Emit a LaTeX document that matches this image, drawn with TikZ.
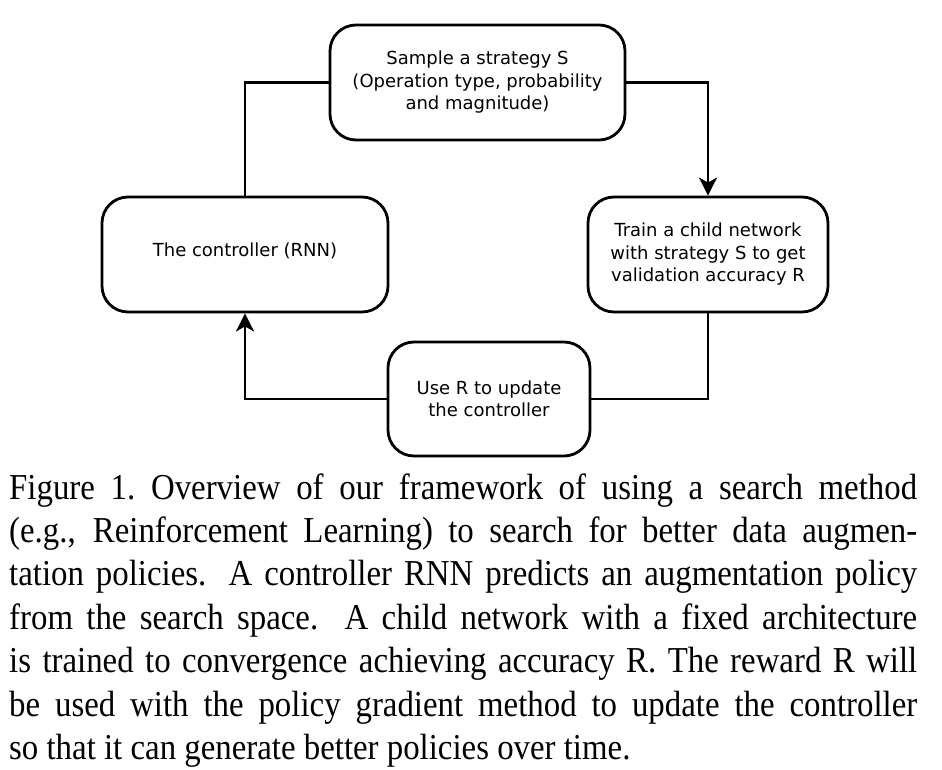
\documentclass[tikz,border=0pt]{standalone}
\usepackage{fontspec}
\setmainfont{Liberation Serif}[FakeStretch=0.9]
\newfontfamily\dejavu{DejaVu Sans}
\usetikzlibrary{arrows.meta}
\begin{document}
\begin{tikzpicture}[x=1pt,y=-1pt,
  box/.style={draw, line width=2.8pt, rounded corners=26pt, align=center,
    inner sep=0pt, font=\dejavu\fontsize{18}{22.5}\selectfont},
  conn/.style={line width=2.8pt},
  arr/.style={conn, -{Stealth[length=18pt,width=18pt,inset=5pt]}},
  caption/.style={anchor=base west, inner sep=0pt, text width=908pt, align=justify,
    font=\fontsize{36.5}{43.4}\selectfont}]
\useasboundingbox (0,0) rectangle (942,770);
\node[box, minimum width=295pt, minimum height=115pt] (sample) at (477.5,82.5)
  {Sample a strategy S\\(Operation type, probability\\and magnitude)};
\node[box, minimum width=286pt, minimum height=115pt] (ctrl) at (245,254.5)
  {\raisebox{4pt}[\height][\depth]{The controller (RNN)}};
\node[box, minimum width=240pt, minimum height=115pt] (train) at (708,254.5)
  {Train a child network\\with strategy S to get\\validation accuracy R};
\node[box, minimum width=202pt, minimum height=114pt] (update) at (489,399)
  {Use R to update\\the controller};
\draw[conn] (ctrl.north) |- (sample.west);
\draw[arr] (sample.east) -| (train.north);
\draw[conn] (train.south) |- (update.east);
\draw[arr] (update.west) -| (ctrl.south);
\node[caption] (cap) at (9,499) {Figure 1.\ Overview of our framework of using a search method\linebreak
(e.g., Reinforcement Learning) to search for better data augmen-\linebreak
tation policies. A controller RNN predicts an augmentation policy\linebreak
from the search space. A child network with a fixed architecture\linebreak
is trained to convergence achieving accuracy R. The reward R will\linebreak
be used with the policy gradient method to update the controller\linebreak
so that it can generate better policies over time.};
\end{tikzpicture}
\end{document}
